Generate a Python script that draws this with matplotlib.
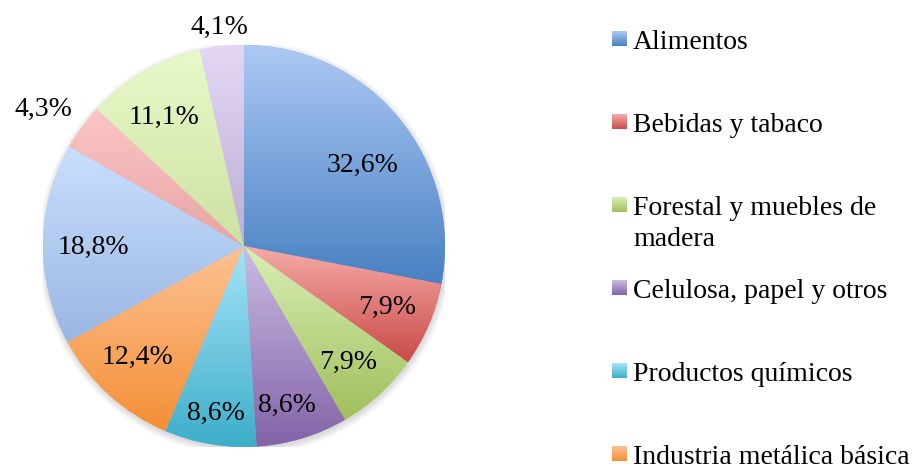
import numpy as np
import matplotlib
matplotlib.use("Agg")
import matplotlib.pyplot as plt
from matplotlib.colors import to_rgb
from matplotlib.patches import Circle

# ---------------- data ----------------
values = [32.6, 7.9, 7.9, 8.6, 8.6, 12.4, 18.8, 4.3, 11.1, 4.1]
legend_names = [
    "Alimentos",
    "Bebidas y tabaco",
    "Forestal y muebles de\nmadera",
    "Celulosa, papel y otros",
    "Productos químicos",
    "Industria metálica básica",
]

# ---------------- style ----------------
top_colors = ["#aec9f5", "#f6aca9", "#d9efb6", "#cbbce4", "#a6e4f8",
              "#fdc293", "#c9dfff", "#fcc6c6", "#e8f9ca", "#e4d7f5"]
bot_colors = ["#4780c2", "#c94a47", "#a0bf5b", "#8263a7", "#3daec9",
              "#f48f36", "#9ab6e1", "#e6a5a3", "#cde1a1", "#bdadd5"]
label_dist = [0.718, 0.769, 0.767, 0.81, 0.829, 0.76, 0.751, 1.216, 0.764, 1.107]
label_shift = [-4.4, 0.7, 0.0, -1.6, 0.0, -2.2, 0.0, 1.6, 1.6, 0.0]  # degrees (ccw)

plt.rcParams["font.family"] = ["Liberation Serif", "DejaVu Serif"]
FS = 20

W, H = 919, 468
fig = plt.figure(figsize=(W / 100, H / 100), dpi=100)
fig.patch.set_facecolor("white")

R, cx, cy = 201, 244, 246
ax = fig.add_axes([(cx - R) / W, (H - cy - R) / H, 2 * R / W, 2 * R / H])

# soft shadow
for i in range(6):
    ax.add_patch(Circle((0.004, -0.012), 1.0 + 0.006 * i, facecolor="#000000",
                        edgecolor="none", alpha=0.025, zorder=0))

mid_cols = [tuple((np.array(to_rgb(a)) + np.array(to_rgb(b))) / 2)
            for a, b in zip(top_colors, bot_colors)]
wedges, _ = ax.pie(values, startangle=90, counterclock=False, radius=1,
                   colors=mid_cols, wedgeprops=dict(linewidth=0))

t = np.linspace(0, 1, 256)[:, None, None]
for w, ct, cb in zip(wedges, top_colors, bot_colors):
    ext = w.get_path().get_extents()
    img = (1 - t) * np.array(to_rgb(ct)) + t * np.array(to_rgb(cb))
    im = ax.imshow(img, extent=[ext.x0, ext.x1, ext.y0, ext.y1], origin="upper",
                   aspect="auto", interpolation="bilinear", zorder=2)
    im.set_clip_path(w)

half_cap = 0.662 * FS / 2
for w, v, d, sh in zip(wedges, values, label_dist, label_shift):
    mid = np.deg2rad((w.theta1 + w.theta2) / 2 + sh)
    txt = f"{v:.1f}%".replace(".", ",")
    ax.annotate(txt, (d * np.cos(mid), d * np.sin(mid)), xytext=(0, -half_cap),
                textcoords="offset points", ha="center", va="baseline",
                fontsize=FS, color="black", zorder=5, annotation_clip=False)

ax.set_xlim(-1, 1)
ax.set_ylim(-1, 1)
ax.set_aspect("auto")
ax.axis("off")

# ---------------- legend ----------------
lax = fig.add_axes([0, 0, 1, 1])
lax.axis("off")
lax.patch.set_visible(False)

s = np.linspace(0, 1, 64)[:, None, None]
for i, name in enumerate(legend_names):
    base = 49 + i * 83
    img = (1 - s) * np.array(to_rgb(top_colors[i])) + s * np.array(to_rgb(bot_colors[i]))
    lax.imshow(img, extent=[612, 627, base - 3, base - 18], aspect="auto",
               interpolation="bilinear", origin="upper")
    for j, line in enumerate(name.split("\n")):
        lax.text(633, base + j * 31.5, line, ha="left", va="baseline",
                 fontsize=FS, color="black")
lax.set_xlim(0, W)
lax.set_ylim(H, 0)

fig.savefig("out.png", dpi=100, facecolor="white")
